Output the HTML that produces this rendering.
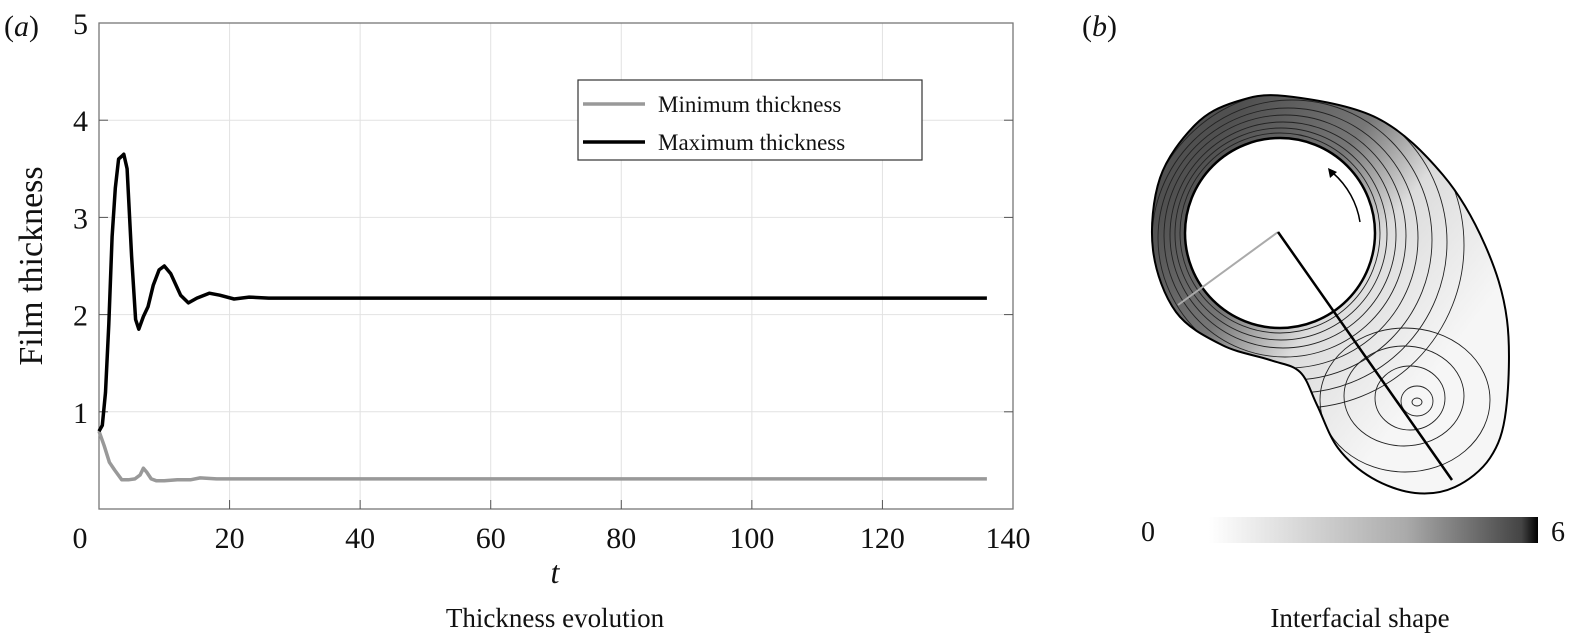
<!DOCTYPE html>
<html><head><meta charset="utf-8"><style>
body{margin:0;background:#fff;}
svg text{font-family:"Liberation Serif",serif;fill:#111;}
</style></head><body>
<svg width="1575" height="638" viewBox="0 0 1575 638">
<defs>
<linearGradient id="fillg" x1="0.1" y1="0.2" x2="0.75" y2="0.75">
<stop offset="0" stop-color="#505050"/><stop offset="0.35" stop-color="#777"/><stop offset="0.6" stop-color="#dcdcdc"/><stop offset="1" stop-color="#f6f6f6"/></linearGradient>
<linearGradient id="cbar" x1="0" x2="1"><stop offset="0" stop-color="#fff"/><stop offset="0.6" stop-color="#aaa"/><stop offset="0.95" stop-color="#444"/><stop offset="1" stop-color="#000"/></linearGradient>
<clipPath id="shapeclip"><path id="shp" d=""/></clipPath>
</defs>
<g>
<text x="4" y="36" font-size="30">(<tspan font-style="italic">a</tspan>)</text>
<g id="grid"></g>
<rect x="99" y="23" width="914" height="486" fill="none" stroke="#777" stroke-width="1.3"/>
<g id="ticks"></g>
<g id="lines"></g>
<text x="555" y="583" font-size="32" font-style="italic" text-anchor="middle">t</text>
<text transform="translate(42,266) rotate(-90)" font-size="34" text-anchor="middle">Film thickness</text>
<text x="555" y="627" font-size="27" text-anchor="middle">Thickness evolution</text>
<g>
<rect x="578" y="80" width="344" height="80" fill="#fff" stroke="#333" stroke-width="1.2"/>
<line x1="583" y1="104" x2="645" y2="104" stroke="#999" stroke-width="3.5"/>
<text x="658" y="112" font-size="23">Minimum thickness</text>
<line x1="583" y1="142" x2="645" y2="142" stroke="#000" stroke-width="3.5"/>
<text x="658" y="150" font-size="23">Maximum thickness</text>
</g>
</g>
<g>
<text x="1082" y="36" font-size="30">(<tspan font-style="italic">b</tspan>)</text>
<use href="#shp" fill="url(#fillg)"/>
<g clip-path="url(#shapeclip)" fill="none" stroke="#222" stroke-width="0.9">
<circle cx="1280" cy="233" r="100"/><circle cx="1281" cy="234" r="106"/><circle cx="1283" cy="235" r="113"/><circle cx="1285" cy="236" r="121"/><circle cx="1288" cy="238" r="130"/><circle cx="1292" cy="240" r="140"/><circle cx="1296" cy="242" r="151"/><circle cx="1301" cy="245" r="163"/>
<ellipse cx="1417" cy="402" rx="5" ry="4"/><ellipse cx="1417" cy="401" rx="16" ry="15"/><ellipse cx="1410" cy="398" rx="35" ry="32"/><ellipse cx="1404" cy="396" rx="60" ry="50"/><ellipse cx="1405" cy="400" rx="85" ry="72"/>
</g>
<use href="#shp" fill="none" stroke="#000" stroke-width="2"/>
<circle cx="1280" cy="233" r="95" fill="#fff" stroke="#000" stroke-width="2.5"/>
<path d="M1360,222 A82,82 0 0 0 1333,173" fill="none" stroke="#000" stroke-width="1.5"/>
<path d="M1328,168 l2,10 l7,-6 z" fill="#000"/>
<line x1="1278" y1="232" x2="1178" y2="305" stroke="#aaa" stroke-width="2"/>
<line x1="1278" y1="232" x2="1452" y2="480" stroke="#000" stroke-width="2.5"/>
<rect x="1209" y="517" width="329" height="26" fill="url(#cbar)"/>
<text x="1148" y="541" font-size="28" text-anchor="middle">0</text>
<text x="1558" y="541" font-size="28" text-anchor="middle">6</text>
<text x="1360" y="627" font-size="27" text-anchor="middle">Interfacial shape</text>
</g>
</svg>
<script>
const xTicks=[0,20,40,60,80,100,120,140];
const yTicks=[1,2,3,4,5];
const tMax=[0,0.5,1,1.5,2,2.5,3,3.5,3.8,4.3,5,5.6,6.1,6.8,7.5,8.3,9.2,10,11,12.5,13.7,15,16.9,18.5,20.7,23,26,30,40,60,80,100,120,136];
const vMax=[0.8,0.86,1.2,1.9,2.8,3.3,3.6,3.63,3.65,3.5,2.6,1.95,1.85,1.98,2.08,2.3,2.46,2.5,2.42,2.2,2.12,2.17,2.22,2.2,2.16,2.18,2.17,2.17,2.17,2.17,2.17,2.17,2.17,2.17];
const tMin=[0,0.8,1.6,2.4,3.5,4.5,5.5,6.3,6.8,7.3,8,8.8,10,12,14,15.5,18,22,30,60,100,136];
const vMin=[0.8,0.65,0.48,0.4,0.3,0.3,0.31,0.35,0.42,0.38,0.31,0.29,0.29,0.3,0.3,0.32,0.31,0.31,0.31,0.31,0.31,0.31];
const NS='http://www.w3.org/2000/svg';
const X=v=>99+v*914/140, Y=v=>509-v*97.2;
const grid=document.getElementById('grid'),ticks=document.getElementById('ticks'),lines=document.getElementById('lines');
function mk(tag,attrs,parent){const e=document.createElementNS(NS,tag);for(const k in attrs)e.setAttribute(k,attrs[k]);parent.appendChild(e);return e;}
xTicks.forEach(v=>{
 if(v>0&&v<140){const g=mk('line',{x1:X(v),x2:X(v),y1:23,y2:509,stroke:'#e2e2e2','stroke-width':1},grid);
 
 
 const tk=mk('line',{x1:X(v),x2:X(v),y1:509,y2:500,stroke:'#555'},ticks);
 
 }
 const lx=v===0?80:(v===140?1008:X(v));
 const t=mk('text',{x:lx,y:548,'font-size':30,'text-anchor':'middle'},ticks);t.textContent=v;
 
 
});
yTicks.forEach(v=>{
 if(v<5){const g=mk('line',{x1:99,x2:1013,y1:Y(v),y2:Y(v),stroke:'#e2e2e2','stroke-width':1},grid);
 
 
 const tk=mk('line',{x1:99,x2:108,y1:Y(v),y2:Y(v),stroke:'#555'},ticks);
 
 
 const tk2=mk('line',{x1:1004,x2:1013,y1:Y(v),y2:Y(v),stroke:'#555'},ticks);
 
 }
 const t=mk('text',{x:88,y:Y(v)+11,'font-size':30,'text-anchor':'end'},ticks);t.textContent=v;
 
 
});
function path(ts,vs){return ts.map((t,i)=>(i?'L':'M')+X(t).toFixed(1)+','+Y(vs[i]).toFixed(1)).join(' ');}
const pmin=mk('path',{d:path(tMin,vMin),fill:'none',stroke:'#999','stroke-width':3.5,'stroke-linejoin':'round'},lines);


const pmax=mk('path',{d:path(tMax,vMax),fill:'none',stroke:'#000','stroke-width':3.5,'stroke-linejoin':'round'},lines);


// smooth closed outline for panel b
const shapeX=[1285,1377,1443,1485,1507,1506,1490,1455,1415,1372,1338,1317,1300,1270,1222,1176,1153,1160,1195,1235];
const shapeY=[96,118,175,245,320,410,458,487,493,478,448,405,372,360,345,312,250,178,125,102];
let d='';const n=shapeX.length;
for(let i=0;i<n;i++){
 const p0=[shapeX[(i-1+n)%n],shapeY[(i-1+n)%n]],p1=[shapeX[i],shapeY[i]],p2=[shapeX[(i+1)%n],shapeY[(i+1)%n]],p3=[shapeX[(i+2)%n],shapeY[(i+2)%n]];
 if(i===0)d+='M'+p1[0]+','+p1[1];
 const c1=[p1[0]+(p2[0]-p0[0])/6,p1[1]+(p2[1]-p0[1])/6],c2=[p2[0]-(p3[0]-p1[0])/6,p2[1]-(p3[1]-p1[1])/6];
 d+=' C'+c1.map(v=>v.toFixed(1)).join(',')+' '+c2.map(v=>v.toFixed(1)).join(',')+' '+p2[0]+','+p2[1];
}
document.getElementById('shp').setAttribute('d',d+'Z');
</script>
</body></html>
